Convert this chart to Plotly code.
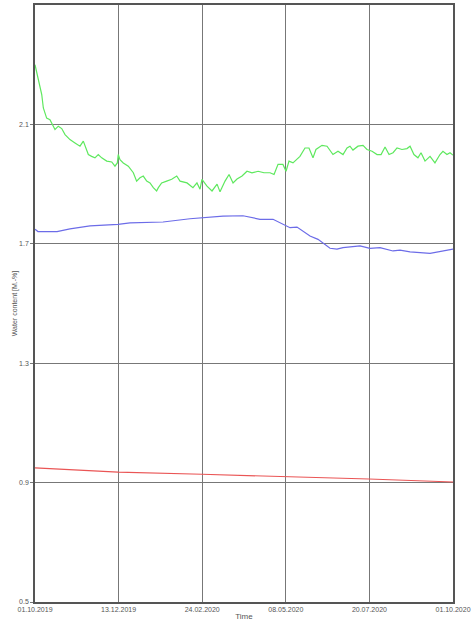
import numpy as np
import pandas as pd
import plotly.graph_objects as go

START = pd.Timestamp("2019-10-01")

# green series (days after 01.10.2019, water content)
green_days = [0, 2.9, 5.9, 7.3, 10.2, 13.1, 16.0, 17.5, 20.4, 23.4, 26.3, 30.6, 35.0, 39.4,
              42.3, 43.8, 46.7, 49.6, 52.5, 55.4, 58.4, 62.8, 67.2, 70.0, 72.1, 72.9, 74.4,
              77.3, 81.7, 86.1, 89.0, 91.9, 94.8, 97.8, 100.7, 103.6, 106.5, 108.0, 110.9,
              115.3, 119.7, 124.1, 127.0, 133.1, 138.3, 141.8, 144.5, 146.2, 150.6, 155.0,
              159.4, 162.0, 166.4, 169.9, 173.4, 176.9, 181.3, 185.6, 190.0, 195.3, 200.5,
              205.8, 209.3, 212.8, 217.1, 219.8, 222.4, 225.9, 229.4, 232.0, 236.4, 239.9,
              243.4, 246.0, 251.3, 255.7, 260.9, 265.3, 269.7, 273.2, 275.8, 278.4, 282.8,
              287.2, 290.7, 295.1, 299.5, 303.0, 306.5, 310.0, 313.5, 317.0, 321.3, 325.7,
              328.4, 331.8, 335.3, 338.0, 341.5, 345.9, 350.2, 354.6, 357.2, 360.7, 363.4, 366]
green_vals = [2.300, 2.255, 2.200, 2.155, 2.121, 2.116, 2.094, 2.083, 2.094, 2.086, 2.066,
              2.049, 2.038, 2.027, 2.044, 2.027, 1.999, 1.993, 1.988, 1.999, 1.988, 1.977,
              1.974, 1.960, 1.971, 1.999, 1.982, 1.971, 1.960, 1.938, 1.910, 1.921, 1.927,
              1.910, 1.904, 1.888, 1.877, 1.888, 1.904, 1.910, 1.916, 1.927, 1.910, 1.904,
              1.888, 1.904, 1.883, 1.916, 1.893, 1.877, 1.900, 1.874, 1.910, 1.932, 1.904,
              1.917, 1.927, 1.943, 1.938, 1.943, 1.938, 1.938, 1.932, 1.966, 1.966, 1.943,
              1.977, 1.971, 1.982, 1.993, 2.021, 2.021, 1.988, 2.016, 2.030, 2.027, 1.999,
              2.010, 1.999, 2.021, 2.027, 2.014, 2.027, 2.030, 2.016, 2.010, 1.999, 1.999,
              2.024, 1.999, 2.005, 2.021, 2.016, 2.019, 2.027, 1.999, 1.988, 2.005, 1.977,
              1.993, 1.971, 1.999, 2.010, 1.999, 2.005, 1.997]

# blue series
blue_days = [0, 2.6, 19.3, 30.6, 48.2, 72.7, 83.2, 112.1, 135.7, 144.5, 164.6, 182.1, 188.2,
             197.0, 208.4, 217.1, 223.3, 229.4, 234.7, 240.8, 247.8, 253.9, 258.3, 264.4,
             269.7, 284.6, 293.3, 302.1, 313.5, 319.6, 328.4, 345.9, 359.0, 366]
blue_vals = [1.749, 1.741, 1.741, 1.750, 1.760, 1.765, 1.770, 1.773, 1.784, 1.787, 1.793,
             1.794, 1.790, 1.782, 1.782, 1.765, 1.754, 1.756, 1.743, 1.726, 1.715, 1.698,
             1.685, 1.682, 1.687, 1.693, 1.685, 1.687, 1.676, 1.679, 1.673, 1.668, 1.676, 1.682]

# red series
red_days = [0, 72.7, 146.2, 218.9, 292.4, 366]
red_vals = [0.949, 0.935, 0.928, 0.921, 0.912, 0.902]

x_tick_labels = ["01.10.2019", "13.12.2019", "24.02.2020", "08.05.2020", "20.07.2020", "01.10.2020"]
y_ticks = [0.5, 0.9, 1.3, 1.7, 2.1]


def to_dates(days):
    return START + pd.to_timedelta(np.array(days), unit="D")


fig = go.Figure()
fig.add_trace(go.Scatter(x=to_dates(green_days), y=green_vals, mode="lines",
                         line=dict(color="#5ee85e", width=1.2), showlegend=False))
fig.add_trace(go.Scatter(x=to_dates(blue_days), y=blue_vals, mode="lines",
                         line=dict(color="#6c6ce8", width=1.2), showlegend=False))
fig.add_trace(go.Scatter(x=to_dates(red_days), y=red_vals, mode="lines",
                         line=dict(color="#ea5555", width=1.2), showlegend=False))

tick_pos = START + pd.to_timedelta(np.arange(6) * 73.2, unit="D")
font = dict(family="Liberation Sans, Arial, sans-serif", size=7, color="#555555")

fig.update_layout(
    template="none",
    width=474, height=628,
    margin=dict(l=35, r=21, t=5, b=26),
    paper_bgcolor="white", plot_bgcolor="white",
    font=font,
    xaxis=dict(
        range=[START, START + pd.Timedelta(days=366)],
        tickvals=tick_pos, ticktext=x_tick_labels,
        showgrid=True, gridcolor="#777777", gridwidth=1,
        showline=True, linecolor="#555555", linewidth=1.5, mirror=True,
        ticks="", zeroline=False, automargin=False,
        title=dict(text="Time", font=dict(size=8, color="#555555"), standoff=1),
    ),
    yaxis=dict(
        range=[0.5, 2.5], tickvals=y_ticks, tickformat=".1f",
        showgrid=True, gridcolor="#777777", gridwidth=1,
        showline=True, linecolor="#555555", linewidth=1.5, mirror=True,
        ticks="outside", ticklen=3, tickcolor="#777777", zeroline=False,
        automargin=False,
        title=dict(text="Water content [M.-%]", font=dict(size=7, color="#555555"), standoff=1),
    ),
)

# the page body has a default 8px margin; drop it so the figure sits at the window corner
fig.write_html("out.html", config={"displayModeBar": False},
               post_script="document.body.style.margin = '0px';")
